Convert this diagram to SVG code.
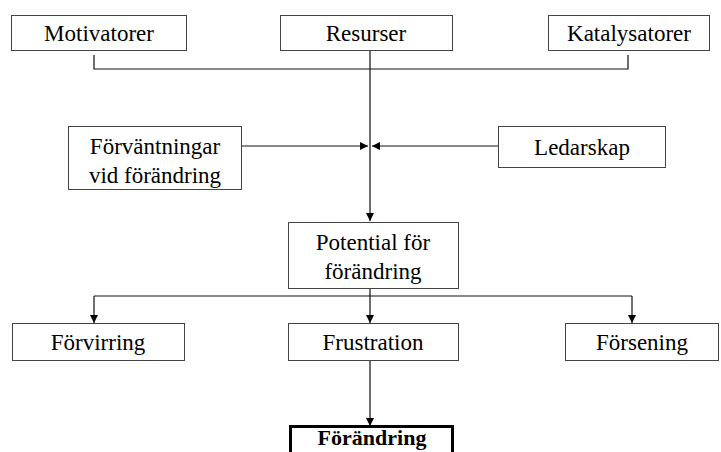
<svg xmlns="http://www.w3.org/2000/svg" width="721" height="452" viewBox="0 0 721 452">
<defs>
<marker id="ah" viewBox="0 0 10 10" refX="10" refY="5" markerWidth="8" markerHeight="8" markerUnits="userSpaceOnUse" orient="auto">
<path d="M0,0 L10,5 L0,10 z" fill="#000"/>
</marker>
<style>
.box{fill:#fff;stroke:#444;stroke-width:1}
.bold{fill:#fff;stroke:#000;stroke-width:3}
text{font-family:'Liberation Serif','DejaVu Serif','Times New Roman',serif;font-size:23px;fill:#000;text-anchor:middle}
.tb{font-weight:bold;font-size:22px}
.c{fill:none;stroke:#111;stroke-width:1.2}
</style>
</defs>
<rect width="721" height="452" fill="#fff"/>
<g id="connectors">
<polyline class="c" points="94,55 94,69 628,69 628,55"/>
<line class="c" x1="370" y1="50" x2="370" y2="221" marker-end="url(#ah)"/>
<line class="c" x1="241" y1="146" x2="368" y2="146" marker-end="url(#ah)"/>
<line class="c" x1="498" y1="146" x2="372" y2="146" marker-end="url(#ah)"/>
<line class="c" x1="370" y1="288" x2="370" y2="323" marker-end="url(#ah)"/>
<line class="c" x1="94" y1="296" x2="632" y2="296"/>
<line class="c" x1="94" y1="296" x2="94" y2="323" marker-end="url(#ah)"/>
<line class="c" x1="632" y1="296" x2="632" y2="323" marker-end="url(#ah)"/>
<line class="c" x1="370" y1="360" x2="370" y2="426" marker-end="url(#ah)"/>
</g>
<g id="motivatorer"><rect class="box" x="11.5" y="15.5" width="175" height="35"/><text x="99" y="41">Motivatorer</text></g>
<g id="resurser"><rect class="box" x="280.5" y="15.5" width="172" height="35"/><text x="366" y="41">Resurser</text></g>
<g id="katalysatorer"><rect class="box" x="548.5" y="15.5" width="161" height="35"/><text x="629" y="41">Katalysatorer</text></g>
<g id="forvantningar"><rect class="box" x="68.5" y="126.5" width="173" height="63"/><text x="155" y="154">Förväntningar</text><text x="155" y="183">vid förändring</text></g>
<g id="ledarskap"><rect class="box" x="498.5" y="126.5" width="167" height="41"/><text x="582" y="155">Ledarskap</text></g>
<g id="potential"><rect class="box" x="288.5" y="222.5" width="170" height="66"/><text x="373" y="250">Potential för</text><text x="373" y="279">förändring</text></g>
<g id="forvirring"><rect class="box" x="12.5" y="323.5" width="172" height="37"/><text x="98" y="350">Förvirring</text></g>
<g id="frustration"><rect class="box" x="288.5" y="323.5" width="170" height="37"/><text x="373" y="350">Frustration</text></g>
<g id="forsening"><rect class="box" x="565.5" y="323.5" width="153" height="37"/><text x="642" y="350">Försening</text></g>
<g id="forandring"><rect class="bold" x="290.5" y="426.5" width="162" height="40"/><text class="tb" x="372" y="445">Förändring</text></g>
</svg>
